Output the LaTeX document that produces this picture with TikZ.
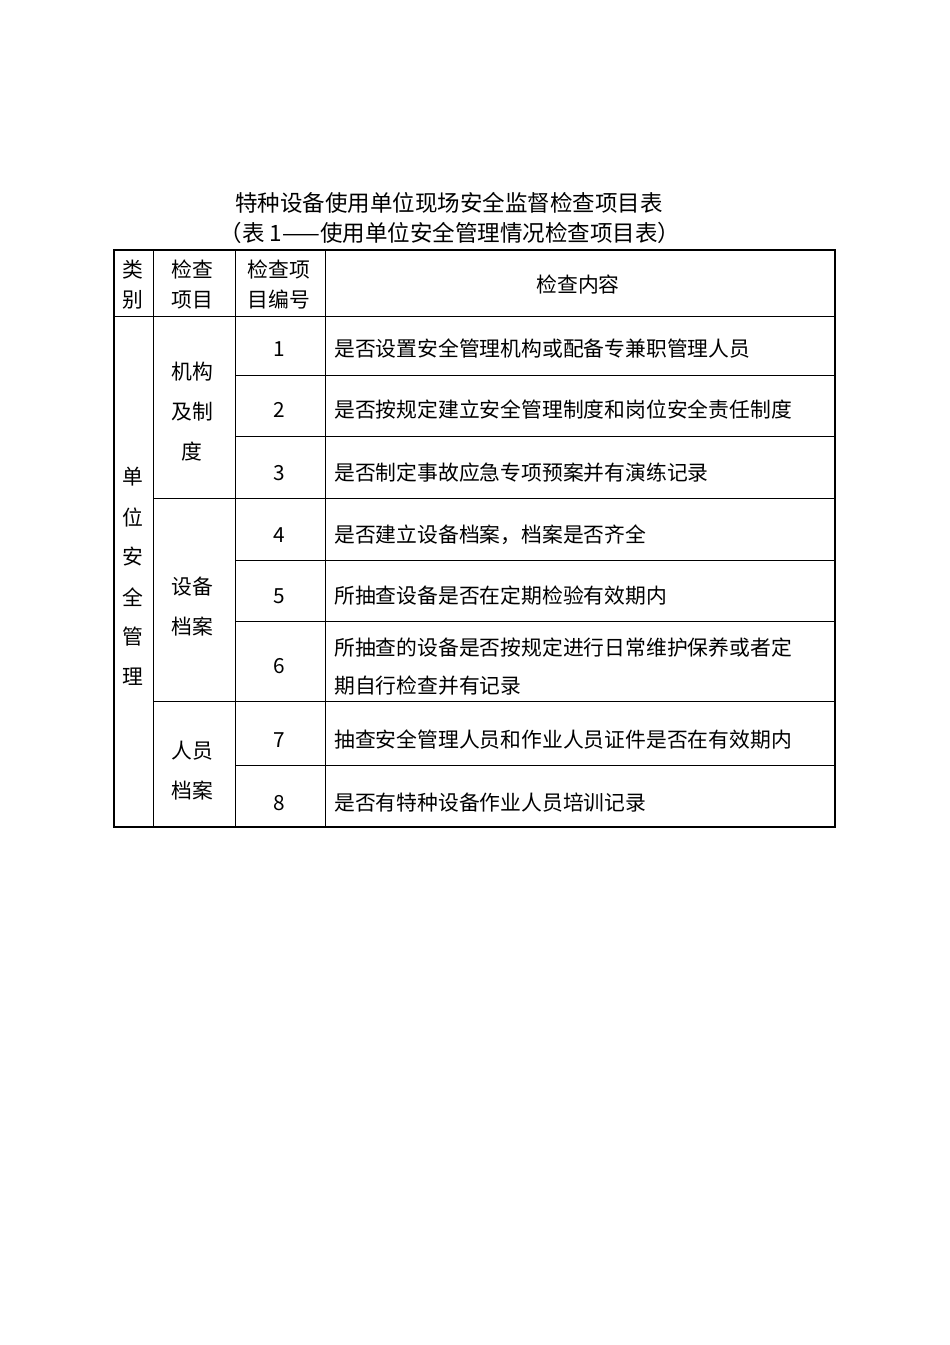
\documentclass[tikz,border=0pt]{standalone}
\usepackage{fontspec}
\newfontfamily\cjk{Noto Sans CJK SC}
\begin{document}
\begin{tikzpicture}[x=1pt,y=-1pt,
  txt/.style={font=\cjk\fontsize{20.8}{22}\selectfont,inner sep=0pt},
  ttl/.style={font=\cjk\fontsize{22.5}{24}\selectfont,inner sep=0pt},
  lt/.style={txt,anchor=west},
  thin/.style={line width=0.8pt},
  thick/.style={line width=1.6pt}]
\useasboundingbox (0,0) rectangle (950,1345);
\fill[white] (0,0) rectangle (950,1345);
\node[ttl] (t1) at (449,203) {特种设备使用单位现场安全监督检查项目表};
\node[ttl] (t2) at (450,233) {（表\ 1——使用单位安全管理情况检查项目表）};
% grid
\draw[thin] (153,250)--(153,827);
\draw[thin] (235,250)--(235,827);
\draw[thin] (325,250)--(325,827);
\draw[thin] (114,316)--(835,316);
\foreach \y in {375,436,560,621,765} \draw[thin] (235,\y)--(835,\y);
\foreach \y in {498,701} \draw[thin] (153,\y)--(835,\y);
\draw[thick] (114,250) rectangle (835,827);
% header
\node[txt] (h1a) at (133,270) {类};
\node[txt] (h1b) at (133,300) {别};
\node[txt] (h2a) at (192,270) {检查};
\node[txt] (h2b) at (192,300) {项目};
\node[txt] (h3a) at (279,270) {检查项};
\node[txt] (h3b) at (279,300) {目编号};
\node[txt] (h4) at (578,285) {检查内容};
% col1
\foreach \c [count=\i from 0] in {单,位,安,全,管,理}
  \node[txt] (c1\i) at (133,477+40*\i) {\c};
% col2
\node[txt] (g1a) at (192,372) {机构};
\node[txt] (g1b) at (192,412) {及制};
\node[txt] (g1c) at (192,452) {度};
\node[txt] (g2a) at (192,587) {设备};
\node[txt] (g2b) at (192,627) {档案};
\node[txt] (g3a) at (192,751) {人员};
\node[txt] (g3b) at (192,791) {档案};
% numbers & content
\foreach \n/\y/\t in {1/349/是否设置安全管理机构或配备专兼职管理人员,
  2/410/是否按规定建立安全管理制度和岗位安全责任制度,
  3/473/是否制定事故应急专项预案并有演练记录,
  4/535/是否建立设备档案，档案是否齐全,
  5/596/所抽查设备是否在定期检验有效期内,
  7/740/抽查安全管理人员和作业人员证件是否在有效期内,
  8/803/是否有特种设备作业人员培训记录} {
  \node[txt] (n\n) at (279,\y) {\n};
  \node[lt] (r\n) at (334,\y) {\t};
}
\node[txt] (n6) at (279,666) {6};
\node[lt] (r6a) at (334,648) {所抽查的设备是否按规定进行日常维护保养或者定};
\node[lt] (r6b) at (334,686) {期自行检查并有记录};
\end{tikzpicture}
\end{document}
